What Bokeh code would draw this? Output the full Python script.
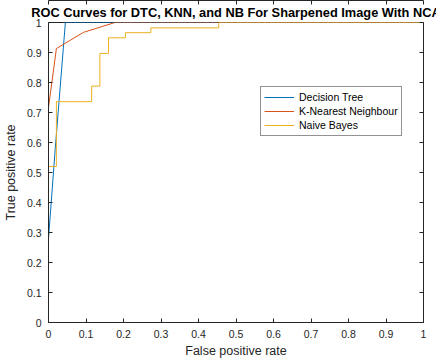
from bokeh.plotting import figure
from bokeh.models import Range1d, LinearAxis, FixedTicker, Legend, LegendItem, Title
from bokeh.embed import file_html
from bokeh.resources import INLINE

# Data
dt_fpr = [0.0, 0.0, 0.018, 0.045, 1.0]
dt_tpr = [0.0, 0.28, 0.58, 1.0, 1.0]

knn_fpr = [0.0, 0.0, 0.021, 0.093, 0.177, 1.0]
knn_tpr = [0.0, 0.717, 0.913, 0.967, 1.0, 1.0]

nb_fpr = [0.0, 0.0, 0.021, 0.021, 0.115, 0.115, 0.137, 0.137, 0.16, 0.16, 0.205, 0.205, 0.273, 0.273, 0.454, 0.454, 1.0]
nb_tpr = [0.0, 0.52, 0.52, 0.736, 0.736, 0.788, 0.788, 0.897, 0.897, 0.949, 0.949, 0.966, 0.966, 0.982, 0.982, 1.0, 1.0]

ticks = [0.0, 0.1, 0.2, 0.3, 0.4, 0.5, 0.6, 0.7, 0.8, 0.9, 1.0]
tick_labels = {0.0: "0", 0.1: "0.1", 0.2: "0.2", 0.3: "0.3", 0.4: "0.4", 0.5: "0.5",
               0.6: "0.6", 0.7: "0.7", 0.8: "0.8", 0.9: "0.9", 1.0: "1"}

FONT = "Liberation Sans"
TICK_COL = "#262626"

p = figure(width=436, height=363, output_backend="svg", toolbar_location=None,
           x_range=Range1d(0, 1), y_range=Range1d(0, 1),
           min_border_left=45, min_border_right=13, min_border_top=22, min_border_bottom=41,
           x_axis_label="False positive rate", y_axis_label="True positive rate")
p.background_fill_color = "white"
p.border_fill_color = "white"
p.grid.visible = False
p.outline_line_color = "#262626"

t = Title(text="ROC Curves for DTC, KNN, and NB For Sharpened Image With NCA",
          align="center", text_font=FONT, text_font_size="12.8px", text_font_style="bold",
          text_color="black", standoff=5, offset=0)
p.add_layout(t, "above")

for ax in [p.xaxis[0], p.yaxis[0]]:
    ax.ticker = FixedTicker(ticks=ticks)
    ax.major_label_overrides = tick_labels
    ax.major_tick_in = 4
    ax.major_tick_out = 0
    ax.minor_tick_line_color = None
    ax.axis_line_color = "#262626"
    ax.major_tick_line_color = "#262626"
    ax.major_label_text_font = FONT
    ax.major_label_text_font_size = "10.5px"
    ax.major_label_text_color = TICK_COL
    ax.axis_label_text_font = FONT
    ax.axis_label_text_font_size = "12.5px"
    ax.axis_label_text_font_style = "normal"
    ax.axis_label_text_color = TICK_COL
p.xaxis[0].major_label_standoff = 7
p.xaxis[0].axis_label_standoff = 3
p.yaxis[0].major_label_standoff = 7
p.yaxis[0].axis_label_standoff = 6

blank = {tk: "" for tk in ticks}
top = LinearAxis(ticker=FixedTicker(ticks=ticks), major_tick_in=4, major_tick_out=0,
                 minor_tick_line_color=None, major_label_overrides=blank,
                 major_label_standoff=0, axis_line_color="#262626", major_tick_line_color="#262626")
right = LinearAxis(ticker=FixedTicker(ticks=ticks), major_tick_in=4, major_tick_out=0,
                   minor_tick_line_color=None, major_label_overrides=blank,
                   major_label_standoff=0, axis_line_color="#262626", major_tick_line_color="#262626")
p.add_layout(top, "above")
p.add_layout(right, "right")

r1 = p.line(dt_fpr, dt_tpr, line_color="#0072BD", line_width=1)
r2 = p.line(knn_fpr, knn_tpr, line_color="#D95319", line_width=1)
r3 = p.line(nb_fpr, nb_tpr, line_color="#EDB120", line_width=1)

legend = Legend(items=[LegendItem(label="Decision Tree", renderers=[r1]),
                       LegendItem(label="K-Nearest Neighbour", renderers=[r2]),
                       LegendItem(label="Naive Bayes", renderers=[r3])],
                location=(212, 186), border_line_color="#262626", border_line_width=1,
                label_text_font=FONT, label_text_font_size="10.5px", label_text_color="black",
                glyph_width=30, glyph_height=14, label_height=14, spacing=0, padding=3,
                margin=0, label_standoff=5, background_fill_alpha=1)
p.add_layout(legend, "center")

open("out.html", "w").write(file_html(p, INLINE))
